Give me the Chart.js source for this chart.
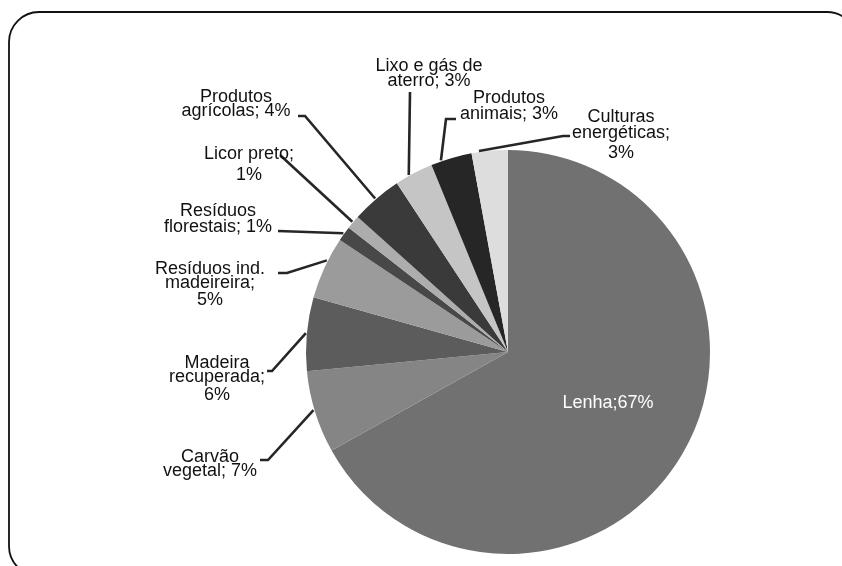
<!DOCTYPE html>
<html>
<head>
<meta charset="utf-8">
<script src="https://cdn.jsdelivr.net/npm/chart.js@4"></script>
<style>
  body { margin: 0; background: #fff; }
  #wrap { width: 842px; height: 566px; position: relative; }
</style>
</head>
<body>
<div id="wrap"><canvas id="biomassChart"></canvas></div>
<script>
// Data
const categories = [
  "Lenha", "Carvão vegetal", "Madeira recuperada", "Resíduos ind. madeireira",
  "Resíduos florestais", "Licor preto", "Produtos agrícolas",
  "Lixo e gás de aterro", "Produtos animais", "Culturas energéticas"
];
const shares = [67.1, 6.6, 5.9, 5.0, 1.2, 1.1, 4.1, 3.1, 3.3, 2.9];
const sliceColors = [
  "#717171", "#858585", "#5c5c5c", "#9b9b9b", "#484848",
  "#adadad", "#3a3a3a", "#c5c5c5", "#262626", "#dddddd"
];

// label layout: words per line, text centre x, baselines, where the leader starts on the slice, leader path
const labelLayout = [
  { sep: ";", words: [2], x: 608, ys: [408], inside: true },
  { words: [1, 2], x: 210, ys: [462, 476], at: 0.53, path: [[268, 460], [260, 460]] },
  { words: [1, 1, 1], x: 217, ys: [368, 382, 400], at: 0.51, path: [[272, 371], [267, 371]] },
  { words: [2, 1, 1], x: 210, ys: [274, 288, 305], at: 0.62, path: [[287, 273], [278, 273]] },
  { words: [1, 2], x: 218, ys: [216, 232], at: 0.5, path: [[278, 231]] },
  { words: [2, 1], x: 249, ys: [159, 180], at: 0.5, path: [[280, 155]] },
  { words: [1, 2], x: 236, ys: [102, 116], at: 0.49, path: [[305, 116], [298, 116]] },
  { words: [4, 2], x: 429, ys: [71, 86], at: 0.37, path: [[410, 92]] },
  { words: [1, 2], x: 509, ys: [103, 119], at: 0.25, path: [[446, 119], [456, 119]] },
  { words: [1, 1, 1], x: 621, ys: [122, 138, 158], at: 0.21, path: [[563, 136], [570, 136]] }
];

const frame = {
  id: "frame",
  beforeDraw(chart) {
    const c = chart.ctx;
    c.save();
    c.fillStyle = "#fff";
    c.fillRect(0, 0, chart.width, chart.height);
    c.strokeStyle = "#111";
    c.lineWidth = 1.8;
    c.beginPath();
    c.roundRect(9, 12, 848, 564, 30);
    c.stroke();
    c.restore();
  }
};

const pieLabels = {
  id: "pieLabels",
  afterDraw(chart) {
    const c = chart.ctx;
    const arcs = chart.getDatasetMeta(0).data;
    c.save();
    c.font = "18px 'Liberation Sans', Arial, sans-serif";
    c.textAlign = "center";
    c.textBaseline = "alphabetic";
    arcs.forEach((arc, i) => {
      const lay = labelLayout[i];
      const pct = Math.round(shares[i]) + "%";
      const text = categories[i] + (lay.sep || "; ") + pct;
      const parts = lay.sep ? [text] : text.split(" ");
      let k = 0;
      const lines = lay.words.map(n => {
        const s = parts.slice(k, k + n).join(" ");
        k += n;
        return s;
      });

      if (!lay.inside) {
        const p = arc.getProps(["x", "y", "startAngle", "endAngle", "outerRadius"], true);
        const a = p.startAngle + (p.endAngle - p.startAngle) * lay.at;
        const r = p.outerRadius + 1;
        c.strokeStyle = "#262626";
        c.lineWidth = 2.6;
        c.beginPath();
        c.moveTo(p.x + Math.cos(a) * r, p.y + Math.sin(a) * r);
        lay.path.forEach(pt => c.lineTo(pt[0], pt[1]));
        c.stroke();
      }

      c.fillStyle = lay.inside ? "#fff" : "#111";
      lines.forEach((ln, j) => c.fillText(ln, lay.x, lay.ys[j]));
    });
    c.restore();
  }
};

new Chart(document.getElementById("biomassChart"), {
  type: "pie",
  data: {
    labels: categories,
    datasets: [{
      data: shares,
      backgroundColor: sliceColors,
      borderWidth: 0
    }]
  },
  options: {
    responsive: true,
    maintainAspectRatio: false,
    animation: false,
    layout: { padding: { top: 150, bottom: 12, left: 306, right: 132 } },
    plugins: {
      legend: { display: false },
      tooltip: { enabled: false }
    }
  },
  plugins: [frame, pieLabels]
});
</script>
</body>
</html>
